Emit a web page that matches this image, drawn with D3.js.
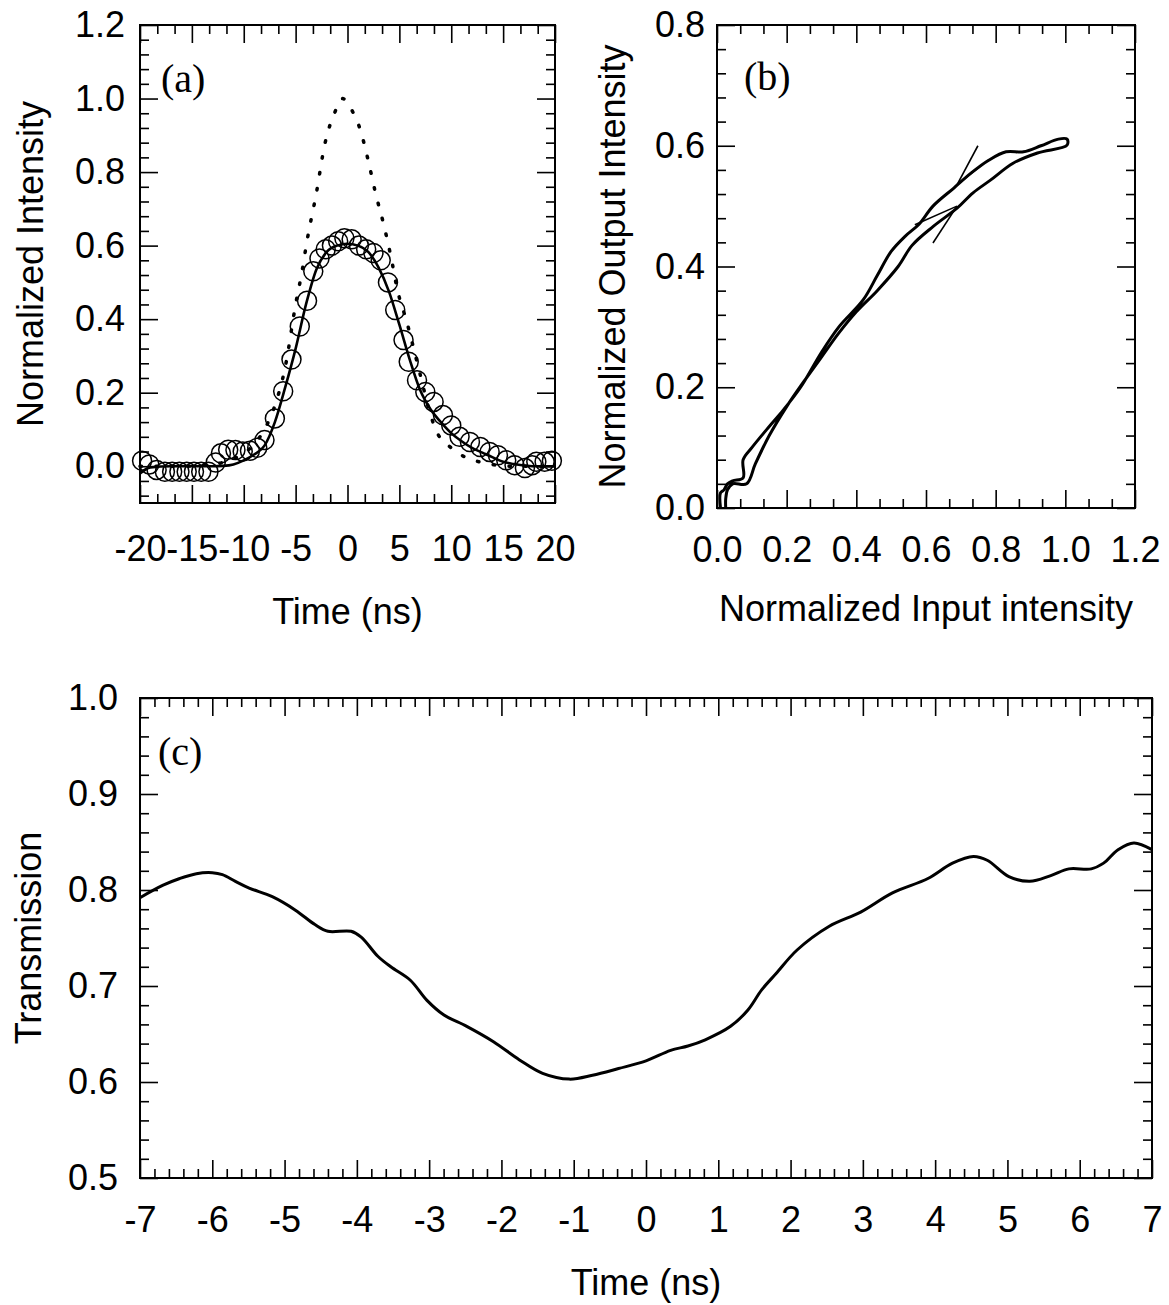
<!DOCTYPE html>
<html>
<head>
<meta charset="utf-8">
<script src="https://cdn.jsdelivr.net/npm/d3@7"></script>
<style>
  body { margin: 0; background: #fff; }
  text { font-family: "Liberation Sans", Arial, sans-serif; fill: #000; }
</style>
</head>
<body>
<script>
// ---- panel (a): pulse shapes ----
var tInput = [-20, -16, -13, -11, -10, -9, -8, -7, -6, -5, -4.4, -3.9, -3.0, -2.2, -1.2, -0.5, 0.5, 1.2, 2.0, 2.7, 3.5, 4.2, 4.8, 5.7, 7, 8, 8.6, 10, 11, 13, 16, 20]
var iInput = [0, 0, 0.005, 0.02, 0.035, 0.06, 0.1, 0.165, 0.27, 0.44, 0.527, 0.613, 0.743, 0.874, 0.964, 1.0, 0.964, 0.918, 0.831, 0.743, 0.656, 0.568, 0.481, 0.394, 0.25, 0.14, 0.094, 0.05, 0.03, 0.01, 0, 0]

var tMeas = [-19.8, -19.1, -18.4, -17.6, -16.9, -16.2, -15.5, -14.8, -14.1, -13.4, -12.7, -12.2, -11.5, -10.8, -10.1, -9.4, -8.7, -8.0, -7.0, -6.2, -5.4, -4.6, -3.9, -3.3, -2.7, -2.1, -1.5, -0.9, -0.3, 0.4, 1.1, 1.8, 2.5, 3.2, 3.9, 4.6, 5.4, 5.9, 6.7, 7.5, 8.3, 9.2, 10.0, 10.8, 11.8, 12.8, 13.7, 14.5, 15.3, 16.1, 17.1, 17.8, 18.2, 19.0, 19.7]
var iMeas = [0.015, 0.005, -0.01, -0.015, -0.015, -0.015, -0.015, -0.015, -0.015, -0.015, 0.01, 0.035, 0.045, 0.044, 0.04, 0.042, 0.05, 0.071, 0.13, 0.204, 0.29, 0.38, 0.45, 0.53, 0.565, 0.59, 0.60, 0.612, 0.62, 0.617, 0.60, 0.59, 0.58, 0.56, 0.50, 0.425, 0.343, 0.284, 0.234, 0.202, 0.175, 0.139, 0.111, 0.08, 0.066, 0.052, 0.039, 0.03, 0.016, 0.003, -0.005, 0.003, 0.012, 0.012, 0.015]

var tFit = [-20, -19, -17, -15, -13, -12, -11, -10, -9, -8, -7, -6, -5, -4, -3, -2, -1, 0, 1, 2, 3, 4, 5, 6, 7, 8, 9, 10, 11, 12, 13, 14, 15, 16, 17, 18, 20]
var iFit = [-0.02, -0.003, 0, 0, 0, 0.001, 0.005, 0.016, 0.032, 0.056, 0.12, 0.215, 0.32, 0.44, 0.535, 0.583, 0.60, 0.605, 0.60, 0.583, 0.54, 0.475, 0.385, 0.29, 0.207, 0.155, 0.12, 0.09, 0.068, 0.05, 0.037, 0.024, 0.012, 0.006, 0.002, 0, 0]

// ---- panel (b): output vs input loop ----
var bIn = [0.01, 0.01, 0.02, 0.03, 0.045, 0.075, 0.075, 0.10, 0.15, 0.19, 0.24, 0.30, 0.35, 0.42, 0.46, 0.50, 0.54, 0.58, 0.62, 0.68, 0.73, 0.78, 0.83, 0.88, 0.93, 0.98, 1.005, 1.005, 0.92, 0.85, 0.785, 0.735, 0.69, 0.62, 0.56, 0.52, 0.46, 0.40, 0.35, 0.30, 0.25, 0.20, 0.15, 0.11, 0.085, 0.045, 0.03, 0.025, 0.025]
var bOut = [0.00, 0.025, 0.03, 0.04, 0.045, 0.05, 0.08, 0.10, 0.135, 0.162, 0.20, 0.258, 0.30, 0.345, 0.385, 0.425, 0.45, 0.47, 0.50, 0.53, 0.555, 0.576, 0.59, 0.59, 0.60, 0.611, 0.611, 0.601, 0.588, 0.571, 0.543, 0.522, 0.497, 0.466, 0.435, 0.40, 0.36, 0.325, 0.29, 0.25, 0.21, 0.168, 0.12, 0.073, 0.04, 0.04, 0.03, 0.015, 0.0]
// thin guide / arrow segments [x1, y1, x2, y2]
var bGuides = [
  [0.749, 0.600, 0.689, 0.535],
  [0.764, 0.570, 0.689, 0.535],
  [0.620, 0.439, 0.689, 0.500],
  [0.568, 0.469, 0.689, 0.500]
]

// ---- panel (c): transmission ----
var tTrans = [-7, -6.68, -6.45, -6.22, -6.0, -5.86, -5.68, -5.49, -5.17, -4.85, -4.58, -4.40, -4.08, -3.94, -3.71, -3.53, -3.26, -3.03, -2.80, -2.48, -2.11, -1.75, -1.43, -1.06, -0.74, -0.38, 0.0, 0.34, 0.58, 0.82, 1.17, 1.41, 1.60, 1.80, 2.09, 2.53, 2.97, 3.41, 3.90, 4.24, 4.53, 4.72, 5.02, 5.31, 5.60, 5.85, 6.16, 6.33, 6.53, 6.75, 7.0]
var trans = [0.792, 0.805, 0.812, 0.817, 0.818, 0.816, 0.809, 0.802, 0.793, 0.779, 0.764, 0.757, 0.757, 0.751, 0.731, 0.720, 0.706, 0.685, 0.670, 0.658, 0.642, 0.623, 0.609, 0.603, 0.607, 0.614, 0.622, 0.633, 0.6375, 0.644, 0.658, 0.675, 0.696, 0.713, 0.7375, 0.762, 0.777, 0.797, 0.812, 0.828, 0.835, 0.831, 0.814, 0.809, 0.815, 0.822, 0.822, 0.828, 0.842, 0.849, 0.842]

var svg = d3.select('body').append('svg')
  .attr('width', 1169)
  .attr('height', 1305)

function zip(a, b) { return a.map((v, i) => [v, b[i]]) }
function fmt1(d) { return d.toFixed(1) }
function fmtInt(d) { return String(d) }
function minors(lo, hi, step, majors) {
  return d3.range(lo, hi + step / 2, step).filter(v => !majors.some(m => Math.abs(m - v) < 1e-6))
}

function panel(o) {
  var x = d3.scaleLinear().domain(o.xd).range([o.x0, o.x1])
  var y = d3.scaleLinear().domain(o.yd).range([o.y1, o.y0])
  var g = svg.append('g')
  var big = 18, small = 9

  var sides = [
    [d3.axisBottom, x, o.y1, true, o.xMaj, o.xMin, o.xFmt, o.xPad],
    [d3.axisTop, x, o.y0, true, o.xMaj, o.xMin, null, 0],
    [d3.axisLeft, y, o.x0, false, o.yMaj, o.yMin, o.yFmt, o.yPad],
    [d3.axisRight, y, o.x1, false, o.yMaj, o.yMin, null, 0]
  ]
  sides.forEach(function(s) {
    var tr = s[3] ? 'translate(0,' + s[2] + ')' : 'translate(' + s[2] + ',0)'
    var maj = g.append('g').attr('transform', tr)
      .call(s[0](s[1]).tickValues(s[4]).tickSizeInner(-big).tickSizeOuter(0)
        .tickPadding(s[7]).tickFormat(s[6] || ''))
    var mn = g.append('g').attr('transform', tr)
      .call(s[0](s[1]).tickValues(s[5]).tickSizeInner(-small).tickSizeOuter(0).tickFormat(''))
    ;[maj, mn].forEach(a => {
      a.select('.domain').remove()
      a.attr('font-size', null).attr('font-family', null)
      a.selectAll('line').attr('stroke', '#000').attr('stroke-width', 1.6)
    })
    maj.selectAll('text').style('font-size', '36px')
  })

  g.append('rect')
    .attr('x', o.x0).attr('y', o.y0)
    .attr('width', o.x1 - o.x0).attr('height', o.y1 - o.y0)
    .attr('fill', 'none').attr('stroke', '#000').attr('stroke-width', 2)

  g.append('text')
    .attr('x', (o.x0 + o.x1) / 2).attr('y', o.xTitleY)
    .attr('text-anchor', 'middle').style('font-size', '36px')
    .text(o.xTitle)
  g.append('text')
    .attr('transform', 'translate(' + o.yTitleX + ',' + (o.y0 + o.y1) / 2 + ') rotate(-90)')
    .attr('text-anchor', 'middle').attr('dy', '0.35em').style('font-size', '36px')
    .text(o.yTitle)
  g.append('text')
    .attr('x', o.tagX).attr('y', o.tagY)
    .style('font-family', '"Liberation Serif", "Times New Roman", serif')
    .style('font-size', '40px')
    .text(o.tag)

  return { x: x, y: y, g: g }
}

// (a)
var A = panel({
  x0: 140, x1: 555, y0: 25, y1: 503,
  xd: [-20, 20], yd: [-0.1, 1.2],
  xMaj: d3.range(-20, 21, 5), xMin: minors(-20, 20, 5 / 3, d3.range(-20, 21, 5)),
  yMaj: [0, 0.2, 0.4, 0.6, 0.8, 1.0, 1.2], yMin: minors(-0.08, 1.2, 0.04, [0, 0.2, 0.4, 0.6, 0.8, 1.0, 1.2]),
  xFmt: fmtInt, yFmt: fmt1, xPad: 32, yPad: 15,
  xTitle: 'Time (ns)', xTitleY: 624, yTitle: 'Normalized Intensity', yTitleX: 30,
  tag: '(a)', tagX: 161, tagY: 92
})
A.g.append('path')
  .datum(zip(tInput, iInput))
  .attr('fill', 'none').attr('stroke', '#000').attr('stroke-width', 3.5)
  .attr('stroke-linecap', 'round').attr('stroke-dasharray', '1.5,14.5')
  .attr('d', d3.line().x(d => A.x(d[0])).y(d => A.y(d[1])).curve(d3.curveMonotoneX))
A.g.append('path')
  .datum(zip(tFit, iFit))
  .attr('fill', 'none').attr('stroke', '#000').attr('stroke-width', 2.6)
  .attr('d', d3.line().x(d => A.x(d[0])).y(d => A.y(d[1])).curve(d3.curveMonotoneX))
A.g.selectAll('circle.m')
  .data(zip(tMeas, iMeas))
  .join('circle')
  .attr('class', 'm')
  .attr('cx', d => A.x(d[0])).attr('cy', d => A.y(d[1]))
  .attr('r', 9.5)
  .attr('fill', 'none').attr('stroke', '#000').attr('stroke-width', 1.5)

// (b)
var B = panel({
  x0: 717, x1: 1135, y0: 25, y1: 508,
  xd: [0, 1.2], yd: [0, 0.8],
  xMaj: [0, 0.2, 0.4, 0.6, 0.8, 1.0, 1.2], xMin: minors(0, 1.2, 0.2 / 3, [0, 0.2, 0.4, 0.6, 0.8, 1.0, 1.2]),
  yMaj: [0, 0.2, 0.4, 0.6, 0.8], yMin: minors(0, 0.8, 0.04, [0, 0.2, 0.4, 0.6, 0.8]),
  xFmt: fmt1, yFmt: fmt1, xPad: 28, yPad: 12,
  xTitle: 'Normalized Input intensity', xTitleY: 621, yTitle: 'Normalized Output Intensity', yTitleX: 612,
  tag: '(b)', tagX: 744, tagY: 90
})
B.g.append('path')
  .datum(zip(bIn, bOut))
  .attr('fill', 'none').attr('stroke', '#000').attr('stroke-width', 3)
  .attr('stroke-linejoin', 'round')
  .attr('d', d3.line().x(d => B.x(d[0])).y(d => B.y(d[1])).curve(d3.curveCatmullRom.alpha(0.5)))
B.g.selectAll('line.guide')
  .data(bGuides)
  .join('line')
  .attr('class', 'guide')
  .attr('x1', d => B.x(d[0])).attr('y1', d => B.y(d[1]))
  .attr('x2', d => B.x(d[2])).attr('y2', d => B.y(d[3]))
  .attr('stroke', '#000').attr('stroke-width', 1.6)

// (c)
var C = panel({
  x0: 140, x1: 1152, y0: 698, y1: 1178,
  xd: [-7, 7], yd: [0.5, 1.0],
  xMaj: d3.range(-7, 8, 1), xMin: minors(-7, 7, 0.2, d3.range(-7, 8, 1)),
  yMaj: [0.5, 0.6, 0.7, 0.8, 0.9, 1.0], yMin: minors(0.5, 1.0, 0.02, [0.5, 0.6, 0.7, 0.8, 0.9, 1.0]),
  xFmt: fmtInt, yFmt: fmt1, xPad: 28, yPad: 22,
  xTitle: 'Time (ns)', xTitleY: 1295, yTitle: 'Transmission', yTitleX: 28,
  tag: '(c)', tagX: 158, tagY: 765
})
C.g.append('path')
  .datum(zip(tTrans, trans))
  .attr('fill', 'none').attr('stroke', '#000').attr('stroke-width', 3)
  .attr('d', d3.line().x(d => C.x(d[0])).y(d => C.y(d[1])).curve(d3.curveCatmullRom))
</script>
</body>
</html>
